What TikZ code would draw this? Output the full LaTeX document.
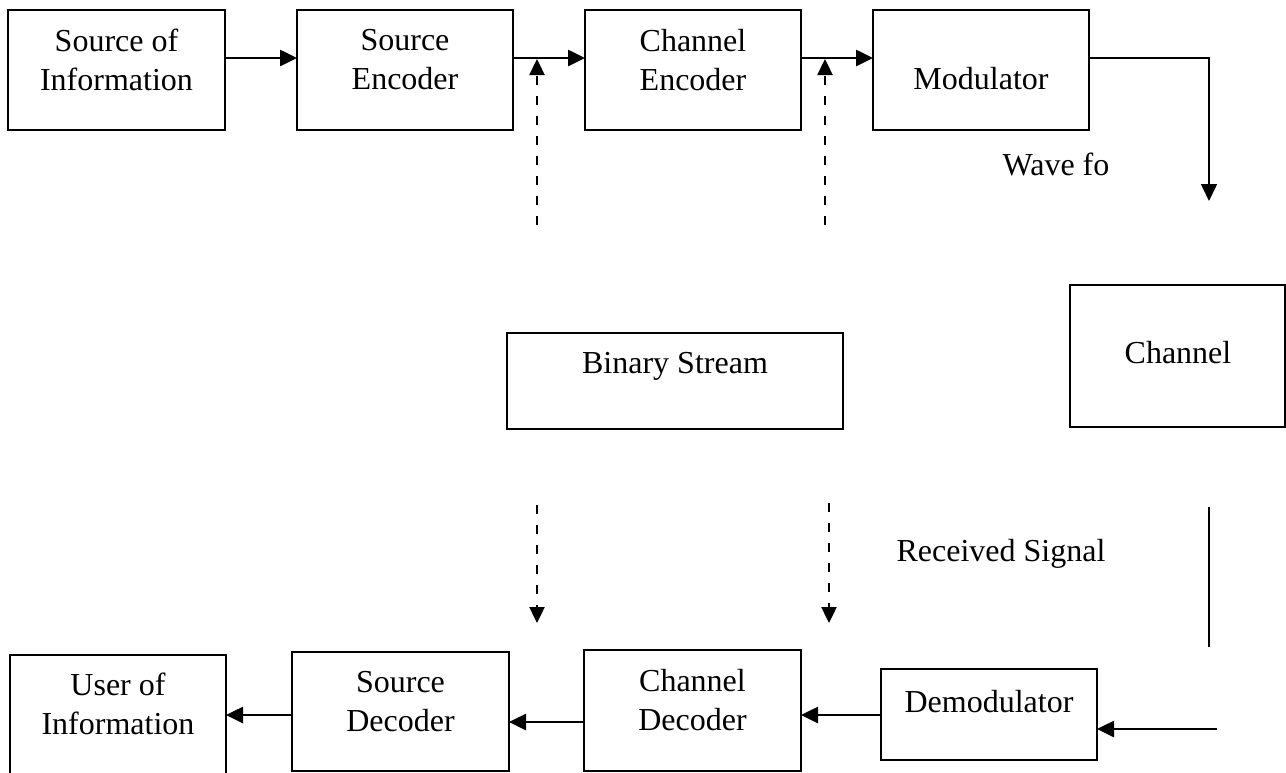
\documentclass[tikz,border=0pt]{standalone}
\usepackage{fontspec}
\setmainfont{Liberation Serif}
\usetikzlibrary{arrows.meta}
\begin{document}
\begin{tikzpicture}[x=1pt,y=-1pt,
  blk/.style={draw, line width=2pt, inner sep=0pt, outer sep=0pt},
  lbl/.style={align=center, inner sep=0pt, font=\fontsize{32}{39}\selectfont},
  arr/.style={line width=2.6pt, -{Triangle[length=17pt,width=16pt]}},
  thinarr/.style={line width=1.6pt, -{Triangle[length=17pt,width=16pt]}},
  dasharr/.style={line width=2.4pt, dash pattern=on 9pt off 11pt, -{Triangle[length=16pt,width=15pt]}},
  plainline/.style={line width=1.8pt}]
\useasboundingbox (0,0) rectangle (1286,772);
% top row
\node[blk, minimum width=217pt, minimum height=120pt] (soi) at (116.5,70) {};
\node[blk, minimum width=216pt, minimum height=120pt] (se) at (405,70) {};
\node[blk, minimum width=216pt, minimum height=120pt] (ce) at (693,70) {};
\node[blk, minimum width=216pt, minimum height=120pt] (mod) at (981,70) {};
\node[lbl] (soit) at (116.5,60) {Source of\\Information};
\node[lbl] (set) at (405,60) {Source\\Encoder};
\node[lbl] (cet) at (693,60) {Channel\\Encoder};
\node[lbl] (modt) at (981,79) {Modulator};
\node[lbl] (wave) at (1056,164) {Wave fo};
% middle
\node[blk, minimum width=336pt, minimum height=96pt] (bin) at (675,381) {};
\node[lbl] (bint) at (675,366) {Binary Stream};
\node[blk, minimum width=215pt, minimum height=142pt] (chan) at (1177.5,356) {};
\node[lbl] (chant) at (1178,353) {Channel};
\node[lbl] (recv) at (1001,554) {Received Signal};
% bottom row
\node[blk, minimum width=216pt, minimum height=140pt] (uoi) at (118,725) {};
\node[blk, minimum width=217pt, minimum height=119pt] (sd) at (400.5,711.5) {};
\node[blk, minimum width=217pt, minimum height=121pt] (cd) at (692.5,710.5) {};
\node[blk, minimum width=216pt, minimum height=91pt] (dem) at (989,714.5) {};
\node[lbl] (uoit) at (118,704) {User of\\Information};
\node[lbl] (sdt) at (400.5,702) {Source\\Decoder};
\node[lbl] (cdt) at (692.5,700) {Channel\\Decoder};
\node[lbl] (demt) at (989,702) {Demodulator};
% coordinates
\coordinate (modend) at (1209,201);
\coordinate (u1s) at (537,225);
\coordinate (u1e) at (537,59);
\coordinate (u2s) at (825,225);
\coordinate (u2e) at (825,59);
\coordinate (d1s) at (537,505);
\coordinate (d1e) at (537,623);
\coordinate (d2s) at (829,503);
\coordinate (d2e) at (829,623);
\coordinate (vs) at (1209,507);
\coordinate (ve) at (1209,647);
\coordinate (ins) at (1217,729);
% top connectors
\draw[arr] (soi.east |- 0,58) -- (se.west |- 0,58);
\draw[arr] (se.east |- 0,58) -- (ce.west |- 0,58);
\draw[arr] (ce.east |- 0,58) -- (mod.west |- 0,58);
\draw[thinarr] (mod.east |- 0,58) -| (modend);
\draw[dasharr] (u1s) -- (u1e);
\draw[dasharr] (u2s) -- (u2e);
% lower connectors
\draw[dasharr] (d1s) -- (d1e);
\draw[dasharr] (d2s) -- (d2e);
\draw[plainline] (vs) -- (ve);
\draw[arr] (ins) -- (dem.east |- 0,729);
\draw[arr] (dem.west |- 0,715) -- (cd.east |- 0,715);
\draw[arr] (cd.west |- 0,722) -- (sd.east |- 0,722);
\draw[arr] (sd.west |- 0,715) -- (uoi.east |- 0,715);
\end{tikzpicture}
\end{document}
